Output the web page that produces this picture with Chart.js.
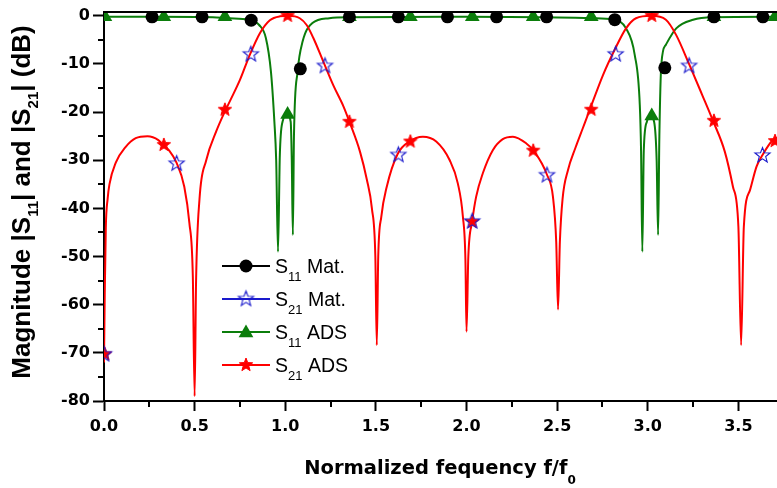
<!DOCTYPE html>
<html lang="en">
<head>
<meta charset="UTF-8">
<title>Magnitude |S11| and |S21|</title>
<script src="https://cdn.jsdelivr.net/npm/chart.js"></script>
<style>
  html, body { margin: 0; padding: 0; background: #fff; }
</style>
</head>
<body>
<canvas id="chart" width="777" height="488"></canvas>
<script>
// values (f/f0, dB)
const freqS21Ads = [0.000, 0.004, 0.010, 0.020, 0.030, 0.065, 0.120, 0.175, 0.240, 0.300, 0.326, 0.360, 0.400, 0.443, 0.471, 0.490, 0.500, 0.508, 0.527, 0.564, 0.619, 0.669, 0.700, 0.750, 0.800, 0.860, 0.915, 0.970, 1.017, 1.080, 1.118, 1.155, 1.210, 1.266, 1.321, 1.354, 1.413, 1.450, 1.478, 1.497, 1.505, 1.513, 1.530, 1.560, 1.620, 1.685, 1.759, 1.833, 1.906, 1.952, 1.980, 1.994, 2.000, 2.010, 2.031, 2.053, 2.090, 2.145, 2.200, 2.256, 2.330, 2.370, 2.444, 2.477, 2.495, 2.505, 2.515, 2.530, 2.560, 2.600, 2.640, 2.680, 2.753, 2.818, 2.880, 2.935, 3.020, 3.100, 3.157, 3.230, 3.300, 3.360, 3.425, 3.470, 3.500, 3.515, 3.530, 3.564, 3.600, 3.633, 3.690, 3.720];
const magS21Ads = [-72, -58, -44, -38, -35, -30.5, -27.2, -25.4, -25.0, -25.8, -26.8, -28.0, -30.5, -35.5, -43, -54, -79, -55, -38, -30, -24, -19.7, -17.3, -13.3, -8.5, -3.6, -0.9, -0.1, 0, -0.5, -1.9, -4.6, -9.5, -14.5, -18.8, -22, -28.3, -34, -40, -50, -68.4, -50, -41.7, -35.5, -28.7, -26.1, -25.1, -26.1, -29.9, -34.8, -41.7, -50.7, -65.6, -50, -42.8, -37.6, -32.7, -27.9, -25.6, -25.1, -26.5, -28, -33, -37.6, -47, -61, -47, -38, -32, -27.5, -23.5, -19.5, -12.3, -7.0, -2.6, -0.5, 0, -0.8, -4, -10.2, -16.4, -21.8, -28.2, -35.5, -43.8, -68.4, -43.8, -36.2, -31.3, -28.9, -25.8, -25.2];

const freqS11Ads = [0.000, 0.300, 0.600, 0.690, 0.800, 0.856, 0.893, 0.921, 0.940, 0.950, 0.960, 0.970, 0.985, 1.010, 1.030, 1.036, 1.042, 1.048, 1.068, 1.096, 1.150, 1.243, 1.350, 2.000, 2.700, 2.810, 2.880, 2.928, 2.956, 2.963, 2.970, 2.978, 2.995, 3.015, 3.035, 3.049, 3.057, 3.064, 3.075, 3.100, 3.157, 3.250, 3.360, 3.720];
const magS11Ads = [-0.2, -0.2, -0.3, -0.5, -0.8, -1.9, -4.6, -11.6, -22, -30, -49, -29, -22, -20.5, -22, -30, -45.5, -25, -11.6, -5.3, -1.5, -0.5, -0.3, -0.2, -0.5, -0.8, -2.6, -8.1, -18.5, -28, -49, -28, -22, -20.8, -22, -30, -45.5, -25, -10, -6, -2.6, -0.8, -0.3, -0.2];

// symbols of the ADS curves
const freqAdsMarks = [0.005, 0.330, 0.667, 1.013, 1.354, 1.690, 2.032, 2.368, 2.688, 3.022, 3.365, 3.702];
const markS21Ads = [-70.3, -26.8, -19.5, 0, -22, -26.1, -42.8, -28, -19.5, 0, -21.8, -26];
const markS11Ads = [-0.2, -0.2, -0.2, -20.5, -0.2, -0.2, -0.2, -0.2, -0.2, -20.8, -0.2, -0.2];

// measured ("Mat.") points
const freqS11Mat = [0.265, 0.541, 0.812, 1.083, 1.354, 1.624, 1.895, 2.166, 2.442, 2.818, 3.094, 3.365, 3.635];
const magS11Mat = [-0.2, -0.2, -0.9, -11, -0.2, -0.2, -0.2, -0.2, -0.2, -0.8, -10.8, -0.2, -0.2];
const freqS21Mat = [0.000, 0.401, 0.810, 1.219, 1.624, 2.031, 2.444, 2.823, 3.228, 3.633];
const magS21Mat = [-70.3, -30.7, -8.0, -10.4, -28.9, -42.7, -33.1, -8.0, -10.4, -29];

const xTicks = [0, 0.5, 1, 1.5, 2, 2.5, 3, 3.5];
const xMinor = [0.25, 0.75, 1.25, 1.75, 2.25, 2.75, 3.25];
const yTicks = [-80, -70, -60, -50, -40, -30, -20, -10, 0];
const yMinor = [-75, -65, -55, -45, -35, -25, -15, -5];

const RED = '#ff0000', GREEN = '#0b7d0b', BLUE = '#1a1acc', BLACK = '#000000';

const zip = (xs, ys) => xs.map((x, i) => ({ x: x, y: ys[i] }));

function makeStar(r, fill, stroke, lw) {
    const s = Math.ceil(2 * r + 2 * lw + 2);
    const c = document.createElement('canvas');
    c.width = s; c.height = s;
    const g = c.getContext('2d');
    g.beginPath();
    for (let i = 0; i < 10; i++) {
        const rr = i % 2 ? r * 0.42 : r;
        const a = -Math.PI / 2 + i * Math.PI / 5;
        g.lineTo(s / 2 + rr * Math.cos(a), s / 2 + rr * Math.sin(a));
    }
    g.closePath();
    if (fill) { g.fillStyle = fill; g.fill(); }
    if (stroke) { g.strokeStyle = stroke; g.lineWidth = lw; g.stroke(); }
    return c;
}

const redStar = makeStar(7, RED, RED, 1);
const blueStar = makeStar(8, null, BLUE, 1.1);

// text with subscripts, drawn left to right from (x, y) baseline
function richWidth(ctx, parts, font, subFont) {
    let w = 0;
    parts.forEach(p => { ctx.font = p[1] ? subFont : font; w += ctx.measureText(p[0]).width; });
    return w;
}
function drawRich(ctx, parts, x, y, font, subFont, subDrop) {
    parts.forEach(p => {
        ctx.font = p[1] ? subFont : font;
        ctx.fillText(p[0], x, p[1] ? y + subDrop : y);
        x += ctx.measureText(p[0]).width;
    });
}

const yTitle = [['Magnitude |S', false], ['11', true], ['| and |S', false], ['21', true], ['| (dB)', false]];
const xTitle = [['Normalized fequency f/f', false], ['0', true]];
const legendRows = [
    { parts: [['S', false], ['11', true], [' Mat.', false]], color: BLACK, mark: 'circle' },
    { parts: [['S', false], ['21', true], [' Mat.', false]], color: BLUE, mark: 'blueStar' },
    { parts: [['S', false], ['11', true], [' ADS', false]], color: GREEN, mark: 'triangle' },
    { parts: [['S', false], ['21', true], [' ADS', false]], color: RED, mark: 'redStar' }
];

const decor = {
    id: 'decor',
    afterDraw(chart) {
        const ctx = chart.ctx;
        const area = chart.chartArea;
        const xs = chart.scales.x, ys = chart.scales.y;
        ctx.save();
        ctx.strokeStyle = BLACK;
        ctx.lineWidth = 2;
        // top frame
        ctx.beginPath();
        ctx.moveTo(area.left - 1, area.top);
        ctx.lineTo(area.right, area.top);
        ctx.stroke();
        // minor ticks
        ctx.beginPath();
        yMinor.forEach(v => {
            const p = Math.round(ys.getPixelForValue(v));
            ctx.moveTo(area.left - 6, p); ctx.lineTo(area.left, p);
        });
        xMinor.forEach(v => {
            const p = Math.round(xs.getPixelForValue(v));
            ctx.moveTo(p, area.bottom); ctx.lineTo(p, area.bottom + 6);
        });
        ctx.stroke();

        ctx.fillStyle = BLACK;
        ctx.textBaseline = 'alphabetic';
        ctx.textAlign = 'left';
        // x title
        const xf = 'bold 19.5px "DejaVu Sans"', xsf = 'bold 12px "DejaVu Sans"';
        const xw = richWidth(ctx, xTitle, xf, xsf);
        drawRich(ctx, xTitle, 440 - xw / 2, 474, xf, xsf, 10);
        // y title
        const yf = 'bold 26px "Liberation Sans"', ysf = 'bold 15px "Liberation Sans"';
        const yw = richWidth(ctx, yTitle, yf, ysf);
        ctx.save();
        ctx.translate(30, 202);
        ctx.rotate(-Math.PI / 2);
        drawRich(ctx, yTitle, -yw / 2, 0, yf, ysf, 8);
        ctx.restore();

        // legend
        const lf = '19.5px "Liberation Sans"', lsf = '13px "Liberation Sans"';
        legendRows.forEach((row, i) => {
            const cy = 266 + i * 33;
            ctx.strokeStyle = row.color;
            ctx.lineWidth = 2;
            ctx.beginPath();
            ctx.moveTo(222, cy); ctx.lineTo(270, cy);
            ctx.stroke();
            if (row.mark === 'circle' || row.mark === 'triangle') {
                ctx.fillStyle = row.color;
                Chart.helpers.drawPoint(ctx, {
                    pointStyle: row.mark, rotation: 0,
                    radius: row.mark === 'circle' ? 6.5 : 8.5, borderWidth: 0
                }, 246, cy + (row.mark === 'triangle' ? 1 : 0));
            } else {
                const img = row.mark === 'redStar' ? redStar : blueStar;
                ctx.drawImage(img, 246 - img.width / 2, cy - img.height / 2);
            }
            ctx.fillStyle = BLACK;
            drawRich(ctx, row.parts, 275, cy + 7, lf, lsf, 8);
        });
        ctx.restore();
    }
};

new Chart(document.getElementById('chart'), {
    type: 'scatter',
    data: {
        datasets: [
            { data: zip(freqS11Mat, magS11Mat), pointStyle: 'circle', pointRadius: 6.5,
              backgroundColor: BLACK, borderColor: BLACK, pointBorderWidth: 0, order: 1 },
            { data: zip(freqS21Mat, magS21Mat), pointStyle: blueStar, order: 2 },
            { data: zip(freqAdsMarks, markS11Ads), pointStyle: 'triangle', pointRadius: 8.5,
              backgroundColor: GREEN, borderColor: GREEN, pointBorderWidth: 0, order: 3 },
            { data: zip(freqAdsMarks, markS21Ads), pointStyle: redStar, order: 4 },
            { data: zip(freqS21Ads, magS21Ads), showLine: true, pointRadius: 0, borderColor: RED,
              borderWidth: 2, cubicInterpolationMode: 'monotone', order: 10 },
            { data: zip(freqS11Ads, magS11Ads), showLine: true, pointRadius: 0, borderColor: GREEN,
              borderWidth: 2, cubicInterpolationMode: 'monotone', order: 11 }
        ]
    },
    options: {
        responsive: false,
        animation: false,
        events: [],
        layout: { autoPadding: false, padding: { top: 12, right: 0, bottom: 0, left: 0 } },
        plugins: { legend: { display: false }, tooltip: { enabled: false } },
        scales: {
            x: {
                type: 'linear', min: 0, max: 3.713,
                afterBuildTicks: s => { s.ticks = xTicks.map(v => ({ value: v })); },
                afterFit: s => { s.height = 87; s.paddingLeft = 0; s.paddingRight = 0; },
                grid: { drawOnChartArea: false, tickLength: 10, tickWidth: 2, tickColor: BLACK },
                border: { color: BLACK, width: 2 },
                ticks: {
                    color: BLACK, padding: 6, maxRotation: 0, autoSkip: false,
                    font: { family: 'DejaVu Sans', size: 16, weight: 'bold' },
                    callback: v => v.toFixed(1)
                }
            },
            y: {
                type: 'linear', min: -80, max: 0.8,
                afterBuildTicks: s => { s.ticks = yTicks.map(v => ({ value: v })); },
                afterFit: s => { s.width = 104; s.paddingTop = 0; s.paddingBottom = 0; },
                grid: { drawOnChartArea: false, tickLength: 11, tickWidth: 2, tickColor: BLACK },
                border: { color: BLACK, width: 2 },
                ticks: {
                    color: BLACK, padding: 3, autoSkip: false,
                    font: { family: 'DejaVu Sans', size: 16, weight: 'bold' },
                    callback: v => String(v)
                }
            }
        }
    },
    plugins: [decor]
});
</script>
</body>
</html>
